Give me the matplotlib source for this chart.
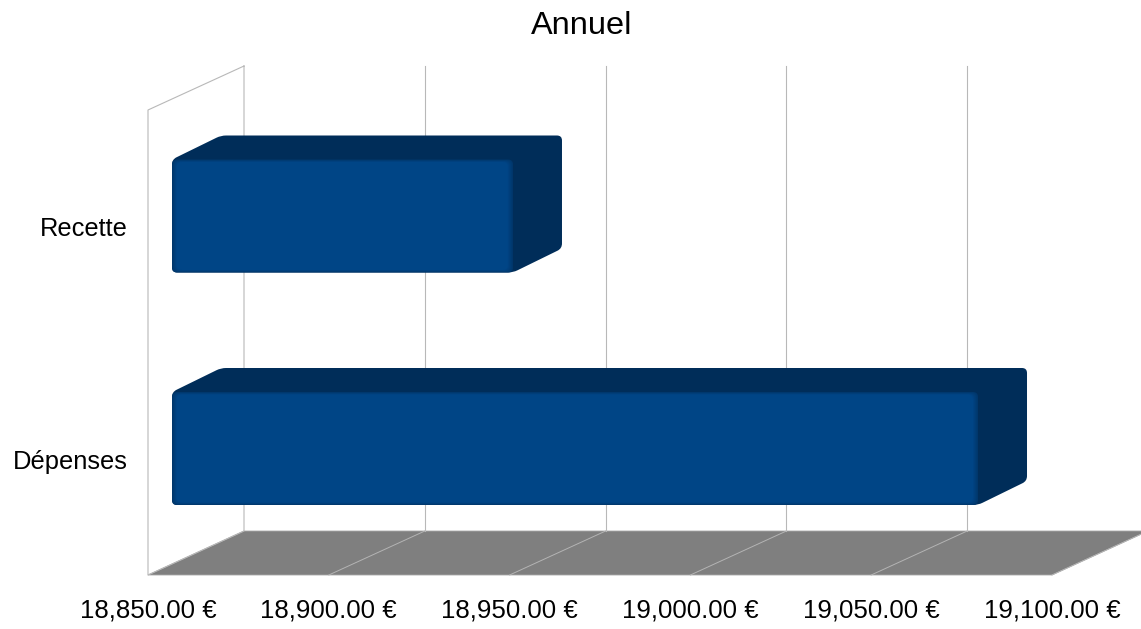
import matplotlib
matplotlib.use("Agg")
import matplotlib.pyplot as plt
from matplotlib.colors import to_rgb
from matplotlib.path import Path
from matplotlib.patches import PathPatch, Polygon

categories = ["Dépenses", "Recette"]
values = [19072.9, 18944.3]
ticks = [18850, 18900, 18950, 19000, 19050, 19100]
tick_labels = ["18,850.00 €", "18,900.00 €", "18,950.00 €", "19,000.00 €", "19,050.00 €", "19,100.00 €"]
title = "Annuel"

plt.rcParams['font.family'] = ['Liberation Sans', 'DejaVu Sans']
W, H = 1141, 629
fig = plt.figure(figsize=(W / 100, H / 100), dpi=100)
ax = fig.add_axes([0, 0, 1, 1])
ax.axis("off")

PXX = 250 / 904.0   # euros per pixel
PXY = 1 / 232.5     # category units per pixel
x0 = 18850 - 148 * PXX
ax.set_xlim(x0, x0 + W * PXX)
ax.set_ylim(-(H - 448.5) * PXY, 448.5 * PXY)

GRID = "#b8b8b8"
FLOOR = "#7f7f7f"
FRONT = "#004586"
DARK = "#002d59"
RIM = "#00376c"
DX, DY = 96 * PXX, 44 * PXY           # full chart depth
BDX, BDY = 49 * PXX, 24 * PXY         # bar depth
BOFF, BOFFY = 24 * PXX, 12 * PXY      # bar offset into the depth
BAR_H = 113 * PXY
y_floor = -126.5 * PXY
y_top = 338.5 * PXY
xa, xb = ticks[0], ticks[-1]


def rounded(pts, r_px=5):
    """closed polygon with rounded corners, radius in pixels"""
    verts, codes = [], []
    n = len(pts)
    for i in range(n):
        p, a, b = pts[i], pts[i - 1], pts[(i + 1) % n]

        def toward(q):
            dx, dy = (q[0] - p[0]) / PXX, (q[1] - p[1]) / PXY
            d = (dx * dx + dy * dy) ** 0.5
            t = min(r_px / d, 0.5)
            return (p[0] + (q[0] - p[0]) * t, p[1] + (q[1] - p[1]) * t)
        s, e = toward(a), toward(b)
        verts += [s, p, e]
        codes += [Path.MOVETO if i == 0 else Path.LINETO, Path.CURVE3, Path.CURVE3]
    verts.append(verts[0])
    codes.append(Path.CLOSEPOLY)
    return Path(verts, codes)


# floor
ax.add_patch(Polygon([(xa, y_floor), (xb, y_floor), (xb + DX, y_floor + DY), (xa + DX, y_floor + DY)],
                     closed=True, fc=FLOOR, ec="#a8a8a8", lw=0.6, zorder=1))
# walls
ax.plot([xa + DX, xa, xa, xa + DX, xa + DX],
        [y_top + DY, y_top, y_floor, y_floor + DY, y_top + DY], color=GRID, lw=0.8, zorder=1.5)
# gridlines
for t in ticks[1:]:
    ax.plot([t, t + DX], [y_floor, y_floor + DY], color="#b4b4b4", lw=0.7, zorder=1.5)
for t in ticks[1:-1]:
    ax.plot([t + DX, t + DX], [y_floor + DY, y_top + DY], color=GRID, lw=0.8, zorder=1.5)

# bars
rim_rgb, front_rgb = to_rgb(RIM), to_rgb(FRONT)
N = 6
for i, (cat, v) in enumerate(zip(categories, values)):
    left = xa + BOFF
    right = v + BOFF
    lo, hi = i - BAR_H / 2, i + BAR_H / 2
    # body silhouette (top and side faces)
    sil = [(left, lo), (right, lo), (right + BDX, lo + BDY), (right + BDX, hi + BDY),
           (left + BDX, hi + BDY), (left, hi)]
    ax.add_patch(PathPatch(rounded(sil, 5), fc=DARK, ec="none", zorder=3))
    # front face with soft darker rims
    for k in range(N):
        f = k / (N - 1)
        col = tuple(a + (b - a) * f for a, b in zip(rim_rgb, front_rgb))
        ixl, ixr, iy = k * 0.9 * PXX, k * 1.0 * PXX, k * 0.5 * PXY
        rect = [(left + ixl, lo + iy), (right - ixr, lo + iy), (right - ixr, hi - iy), (left + ixl, hi - iy)]
        ax.add_patch(PathPatch(rounded(rect, 5), fc=col, ec="none", zorder=4 + k * 0.1))
    ax.text(xa - 20 * PXX, i - BOFFY - 1.5 * PXY, cat, ha="right", va="center", fontsize=18.4, color="black", zorder=6)

# tick labels
for t, lab in zip(ticks, tick_labels):
    ax.text(t, y_floor - 35.5 * PXY, lab, ha="center", va="center", fontsize=18.6, color="black", clip_on=False)

# title
ax.text(x0 + 581.5 * PXX, 448.5 * PXY - 26.5 * PXY, title, ha="center", va="center", fontsize=23.4, color="black")

fig.savefig("out.png", dpi=100, facecolor="white")
